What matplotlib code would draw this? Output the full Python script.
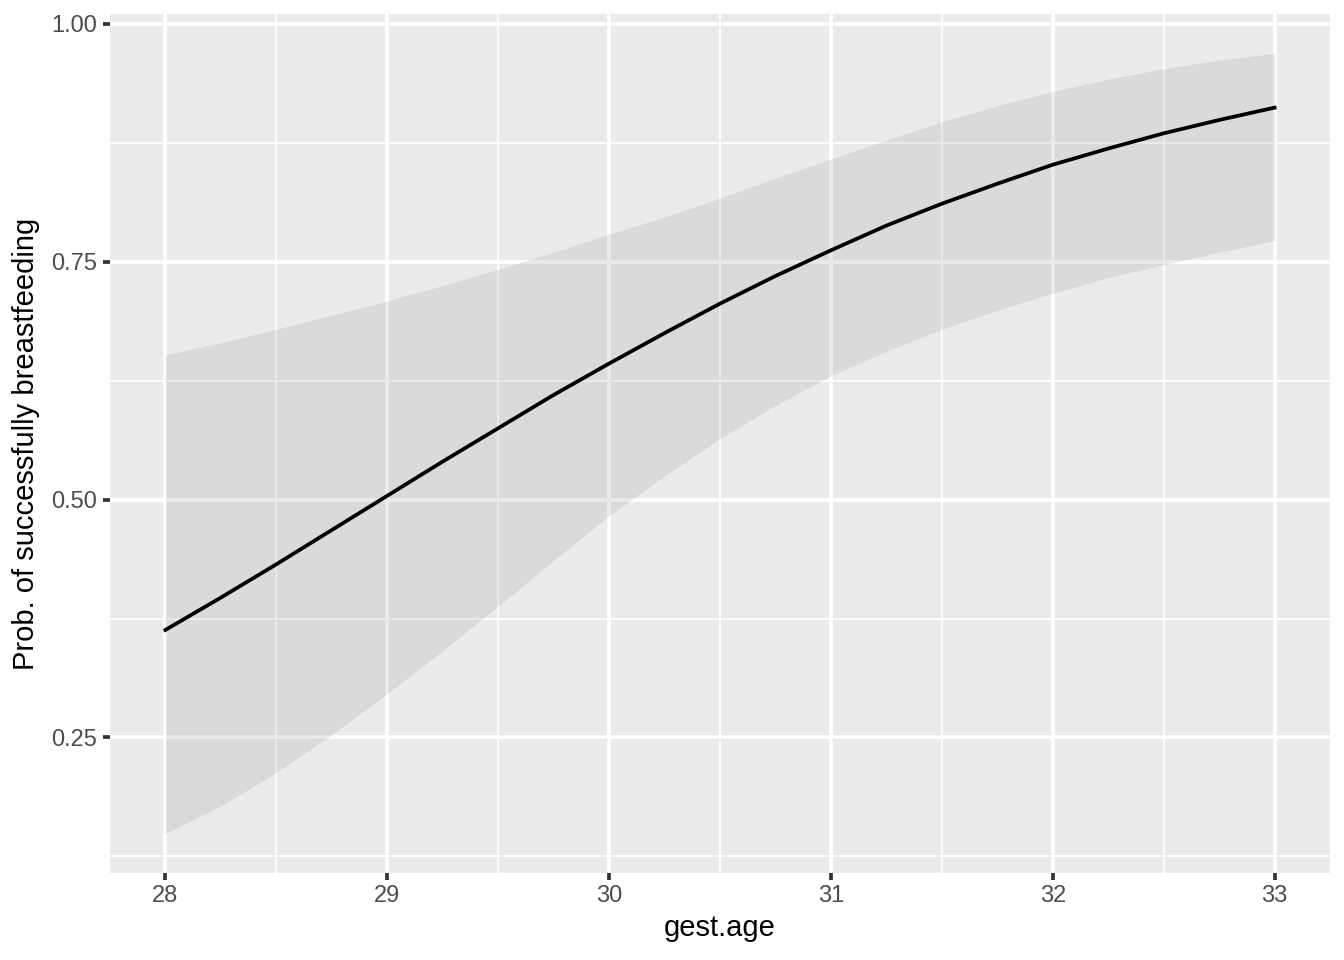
import matplotlib.pyplot as plt
from matplotlib.ticker import MultipleLocator

plt.rcParams['font.family'] = ['Liberation Sans', 'DejaVu Sans']

# predicted probability and confidence band
gest_age = [28, 28.25, 28.5, 28.75, 29, 29.25, 29.5, 29.75, 30, 30.25, 30.5,
            30.75, 31, 31.25, 31.5, 31.75, 32, 32.25, 32.5, 32.75, 33]
prob = [0.363, 0.397, 0.432, 0.468, 0.504, 0.540, 0.575, 0.610, 0.643, 0.675, 0.706,
        0.735, 0.762, 0.788, 0.811, 0.832, 0.852, 0.869, 0.885, 0.899, 0.912]
upper = [0.652, 0.665, 0.679, 0.694, 0.709, 0.725, 0.742, 0.760, 0.779, 0.797, 0.817,
         0.838, 0.858, 0.878, 0.897, 0.914, 0.929, 0.942, 0.953, 0.962, 0.969]
lower = [0.149, 0.178, 0.213, 0.253, 0.296, 0.341, 0.388, 0.436, 0.483, 0.525, 0.564,
         0.599, 0.630, 0.656, 0.679, 0.699, 0.717, 0.733, 0.747, 0.760, 0.772]

y_ticks = [0.25, 0.50, 0.75, 1.00]
y_labels = ['0.25', '0.50', '0.75', '1.00']

fig = plt.figure(figsize=(13.44, 9.6), dpi=100)
ax = fig.add_axes([0.0818, 0.0911, 0.9078, 0.8939])
ax.set_facecolor('#EBEBEB')

ax.fill_between(gest_age, lower, upper, color='#999999', alpha=0.2, linewidth=0)
ax.plot(gest_age, prob, color='black', linewidth=2.7)

# ggplot-like expansion of 5%
xr = max(gest_age) - min(gest_age)
ax.set_xlim(min(gest_age) - 0.05 * xr, max(gest_age) + 0.05 * xr)
ymin, ymax = min(lower), max(upper)
yr = ymax - ymin
ax.set_ylim(ymin - 0.05 * yr, ymax + 0.05 * yr)

ax.set_xticks([28, 29, 30, 31, 32, 33])
ax.set_yticks(y_ticks)
ax.set_yticklabels(y_labels)
ax.xaxis.set_minor_locator(MultipleLocator(0.5))
ax.set_yticks([0.125, 0.375, 0.625, 0.875], minor=True)

ax.grid(which='major', color='white', linewidth=2.7)
ax.grid(which='minor', color='white', linewidth=1.35)
ax.set_axisbelow(True)
for s in ax.spines.values():
    s.set_visible(False)

ax.tick_params(which='major', length=5.3, width=2.7, color='#333333',
               labelsize=17, labelcolor='#4D4D4D', pad=4)
ax.tick_params(which='minor', length=0)

ax.set_xlabel('gest.age', fontsize=21, labelpad=5)
ax.set_ylabel('Prob. of successfully breastfeeding', fontsize=21, labelpad=8)

fig.savefig('out.png', dpi=100)
